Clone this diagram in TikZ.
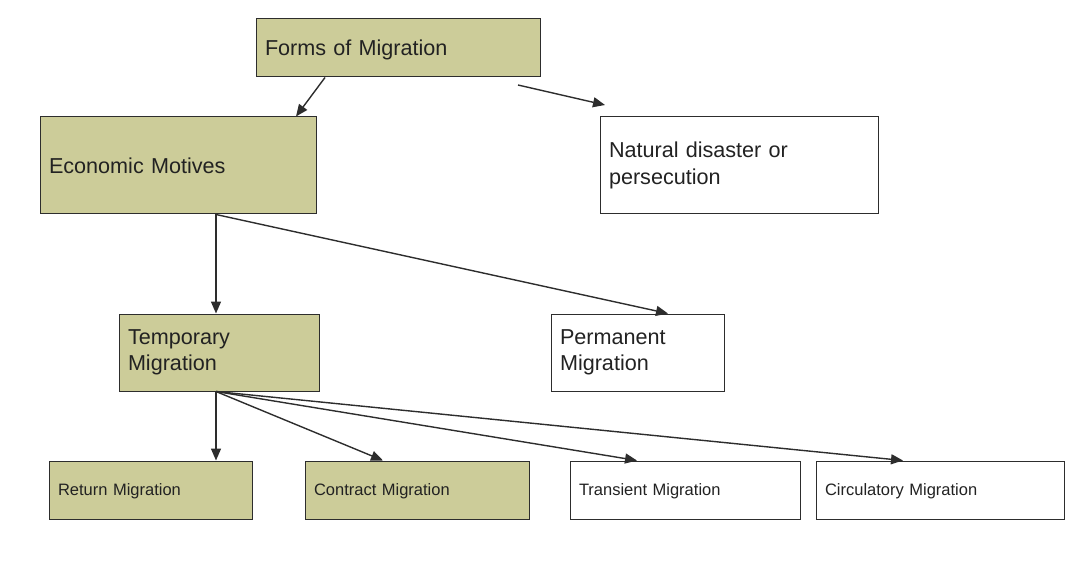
\documentclass[tikz,border=0pt]{standalone}
\usepackage{fontspec}
\setmainfont{Liberation Sans}
\usetikzlibrary{arrows.meta}
\definecolor{boxolive}{RGB}{204,204,153}
\definecolor{lineg}{RGB}{45,45,45}
\definecolor{textg}{RGB}{34,34,34}

\begin{document}
\begin{tikzpicture}[x=1pt,y=-1pt,
	migbox/.style={rectangle,draw=lineg,line width=1pt,inner xsep=9pt,inner ysep=0pt,align=left,text=textg},
	oneline/.style={text depth=0pt},
	bigtxt/.style={font=\fontsize{21.6}{26.5}\selectfont},
	smalltxt/.style={font=\fontsize{16.5}{20}\selectfont},
	link/.style={draw=lineg,line width=1.4pt,-{Triangle[length=12pt,width=10pt]}}]
		\useasboundingbox (0,0) rectangle (1067,561);
		\node at (398,48) [migbox,oneline,bigtxt,fill=boxolive,minimum height=58pt,text width=266pt] (forms) {Forms of Migration};
		\node at (178,165.5) [migbox,oneline,bigtxt,fill=boxolive,minimum height=97pt,text width=258pt] (econ) {Economic Motives};
		\node at (739,165.5) [migbox,bigtxt,fill=white,minimum height=97pt,text width=260pt] (natural) {Natural disaster or\\persecution};
		\node at (219,352.5) [migbox,bigtxt,fill=boxolive,minimum height=77pt,text width=182pt] (temp) {Temporary\\Migration};
		\node at (637.5,352.5) [migbox,bigtxt,fill=white,minimum height=77pt,text width=155pt] (perm) {Permanent\\Migration};
		\node at (150.5,490) [migbox,oneline,smalltxt,fill=boxolive,minimum height=58pt,text width=185pt] (ret) {Return Migration};
		\node at (417,490) [migbox,oneline,smalltxt,fill=boxolive,minimum height=58pt,text width=206pt] (contract) {Contract Migration};
		\node at (685,490) [migbox,oneline,smalltxt,fill=white,minimum height=58pt,text width=212pt] (trans) {Transient Migration};
		\node at (940,490) [migbox,oneline,smalltxt,fill=white,minimum height=58pt,text width=230pt] (circ) {Circulatory Migration};
		\coordinate (fnA) at (518,85);
		\coordinate (fnB) at (605,105);
		\coordinate (esplit) at (216,214.5);
		\coordinate (tsplit) at (216,391.5);
		\draw[link] ([xshift=-73pt]forms.south) -- ([xshift=118pt]econ.north);
		\draw[link] (fnA) -- (fnB);
		\draw[link] (esplit) -- (temp.north -| esplit);
		\draw[link] (esplit) -- ([xshift=30.5pt]perm.north);
		\draw[link] (tsplit) -- (ret.north -| tsplit);
		\draw[link] (tsplit) -- ([xshift=-34pt]contract.north);
		\draw[link] (tsplit) -- ([xshift=-48pt]trans.north);
		\draw[link] (tsplit) -- ([xshift=-37pt]circ.north);
\end{tikzpicture}
\end{document}
